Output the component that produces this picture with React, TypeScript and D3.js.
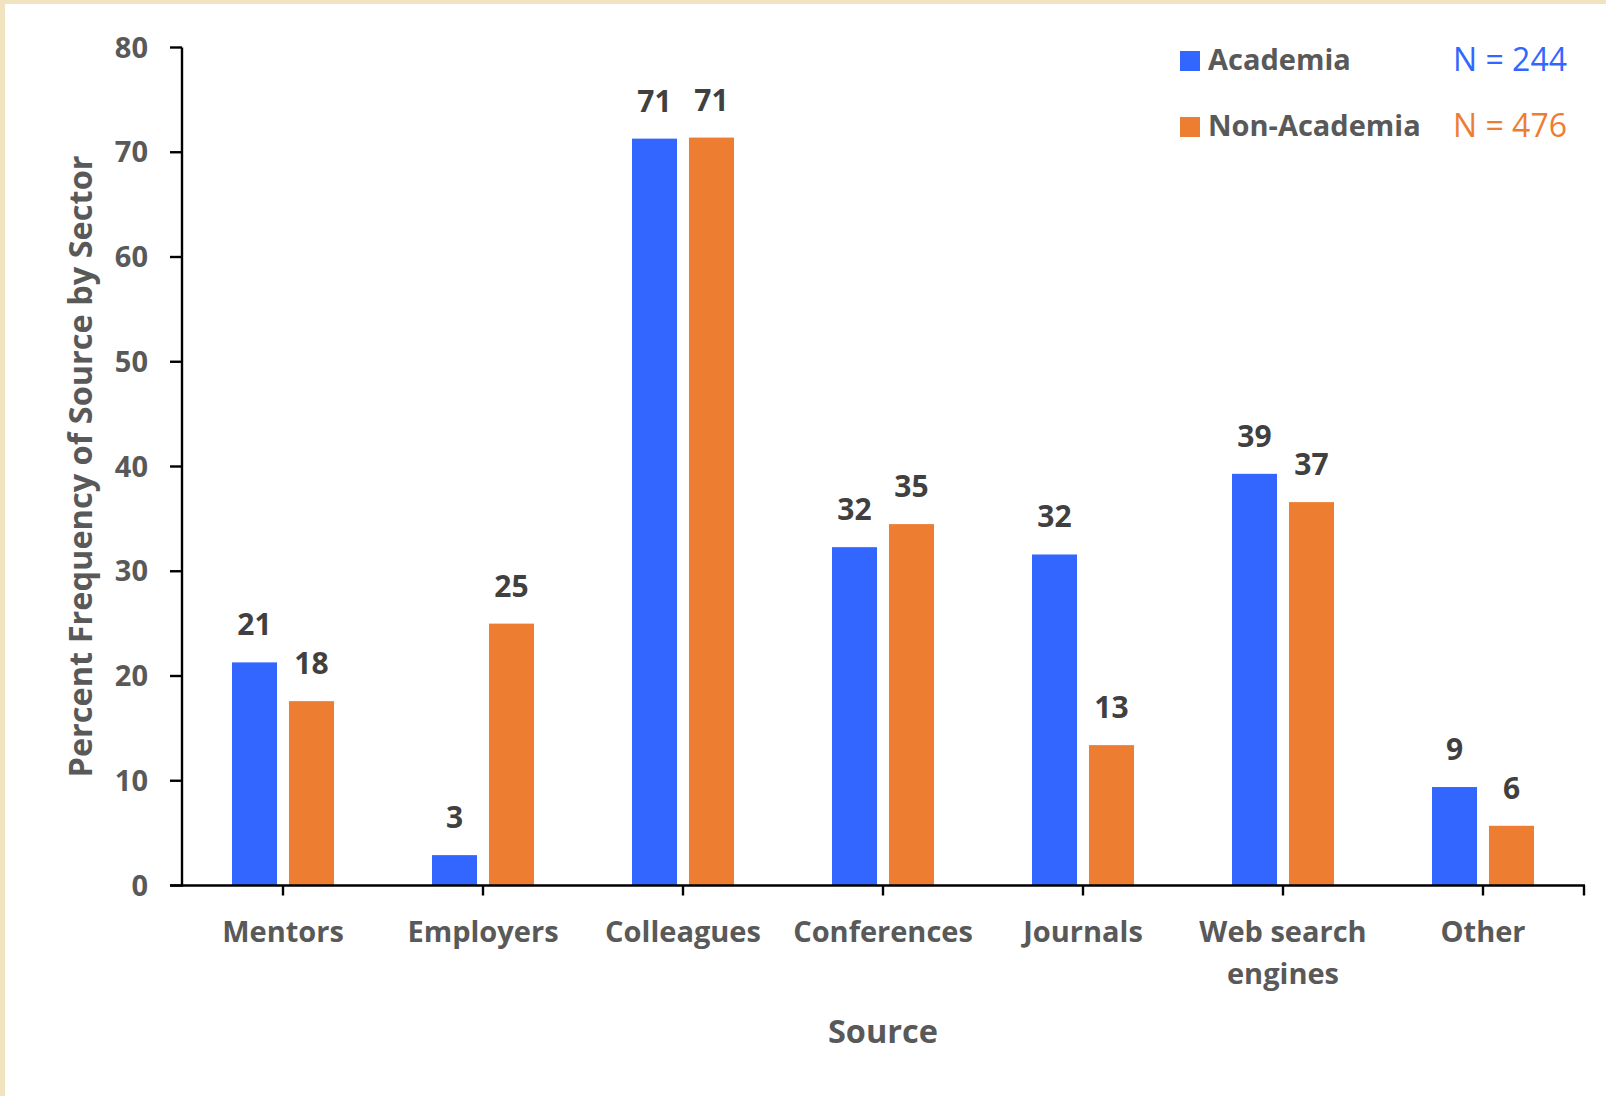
import React from "react";
import * as d3 from "d3";

// Survey results: percent of respondents citing each source, by sector
const categories = [
  "Mentors",
  "Employers",
  "Colleagues",
  "Conferences",
  "Journals",
  "Web search engines",
  "Other",
];
const academia = [21.3, 2.9, 71.3, 32.3, 31.6, 39.3, 9.4];
const nonAcademia = [17.6, 25.0, 71.4, 34.5, 13.4, 36.6, 5.7];
const seriesNames = ["Academia", "Non-Academia"];
const seriesN = [244, 476];
const yTicks = [0, 10, 20, 30, 40, 50, 60, 70, 80];

const W = 1606;
const H = 1096;
const COLORS = ["#3366FF", "#ED7D31"];
const TEXT = "#595959";
const LABEL = "#404040";
const FONT = "'Open Sans', 'DejaVu Sans', sans-serif";

// Split long category names onto two lines
const wrapLabel = (s: string) => (s === "Web search engines" ? ["Web search", "engines"] : [s]);

export default function App() {
  const x = d3.scaleBand<string>().domain(categories).range([183, 1583]);
  const xs = d3
    .scaleBand<string>()
    .domain(seriesNames)
    .range([0, x.bandwidth()])
    .paddingInner(0.21)
    .paddingOuter(0.86);
  const y = d3.scaleLinear().domain([0, 80]).range([885.5, 47.5]);
  const series = [academia, nonAcademia];
  const fmt = d3.format(".0f");
  const axisY = y(0);

  return (
    <svg
      width={W}
      height={H}
      style={{ position: "absolute", left: 0, top: 0, display: "block" }}
      fontFamily={FONT}
    >
      <rect x={0} y={0} width={W} height={H} fill="#F1E2C0" />
      <rect x={5} y={4} width={W - 5} height={H - 4} fill="#FFFFFF" />

      {/* bars */}
      {series.map((vals, si) =>
        vals.map((v, ci) => {
          const bx = (x(categories[ci]) as number) + (xs(seriesNames[si]) as number);
          return (
            <g key={`${si}-${ci}`}>
              <rect
                x={bx}
                y={y(v)}
                width={xs.bandwidth()}
                height={axisY - y(v)}
                fill={COLORS[si]}
              />
              <text
                x={bx + xs.bandwidth() / 2}
                y={y(v) - 27}
                textAnchor="middle"
                fontSize={30}
                fontWeight={700}
                fill={LABEL}
              >
                {fmt(v)}
              </text>
            </g>
          );
        })
      )}

      {/* y axis */}
      <line x1={182} x2={182} y1={y(80)} y2={axisY + 1} stroke="#000" strokeWidth={2.4} />
      {yTicks.map((t) => (
        <g key={t}>
          <line x1={170} x2={182} y1={y(t)} y2={y(t)} stroke="#000" strokeWidth={2.4} />
          <text
            x={148}
            y={y(t)}
            dy="0.35em"
            textAnchor="end"
            fontSize={29}
            fontWeight={700}
            fill={TEXT}
          >
            {t}
          </text>
        </g>
      ))}

      {/* x axis */}
      <line x1={170} x2={1585} y1={axisY} y2={axisY} stroke="#000" strokeWidth={2.4} />
      {categories.map((c) => {
        const cx = (x(c) as number) + x.bandwidth() / 2;
        return (
          <g key={c}>
            <line x1={cx} x2={cx} y1={axisY} y2={axisY + 10} stroke="#000" strokeWidth={2.4} />
            {wrapLabel(c).map((line, li) => (
              <text
                key={li}
                x={cx}
                y={942 + li * 42}
                textAnchor="middle"
                fontSize={29}
                fontWeight={700}
                fill={TEXT}
              >
                {line}
              </text>
            ))}
          </g>
        );
      })}
      <line x1={1584} x2={1584} y1={axisY} y2={axisY + 10} stroke="#000" strokeWidth={2.4} />

      {/* axis titles */}
      <text
        x={883}
        y={1043}
        textAnchor="middle"
        fontSize={32.5}
        fontWeight={700}
        fill={TEXT}
      >
        Source
      </text>
      <text
        transform={`translate(92, ${(y(0) + y(80)) / 2}) rotate(-90)`}
        textAnchor="middle"
        fontSize={32.5}
        fontWeight={700}
        fill={TEXT}
      >
        Percent Frequency of Source by Sector
      </text>

      {/* legend */}
      {seriesNames.map((s, i) => (
        <g key={s} transform={`translate(0, ${i * 66})`}>
          <rect x={1180} y={51} width={20} height={20} fill={COLORS[i]} />
          <text x={1208} y={70} fontSize={29} fontWeight={700} fill={TEXT}>
            {s}
          </text>
          <text x={1567} y={71} textAnchor="end" fontSize={32} fill={COLORS[i]}>
            {`N = ${seriesN[i]}`}
          </text>
        </g>
      ))}
    </svg>
  );
}
